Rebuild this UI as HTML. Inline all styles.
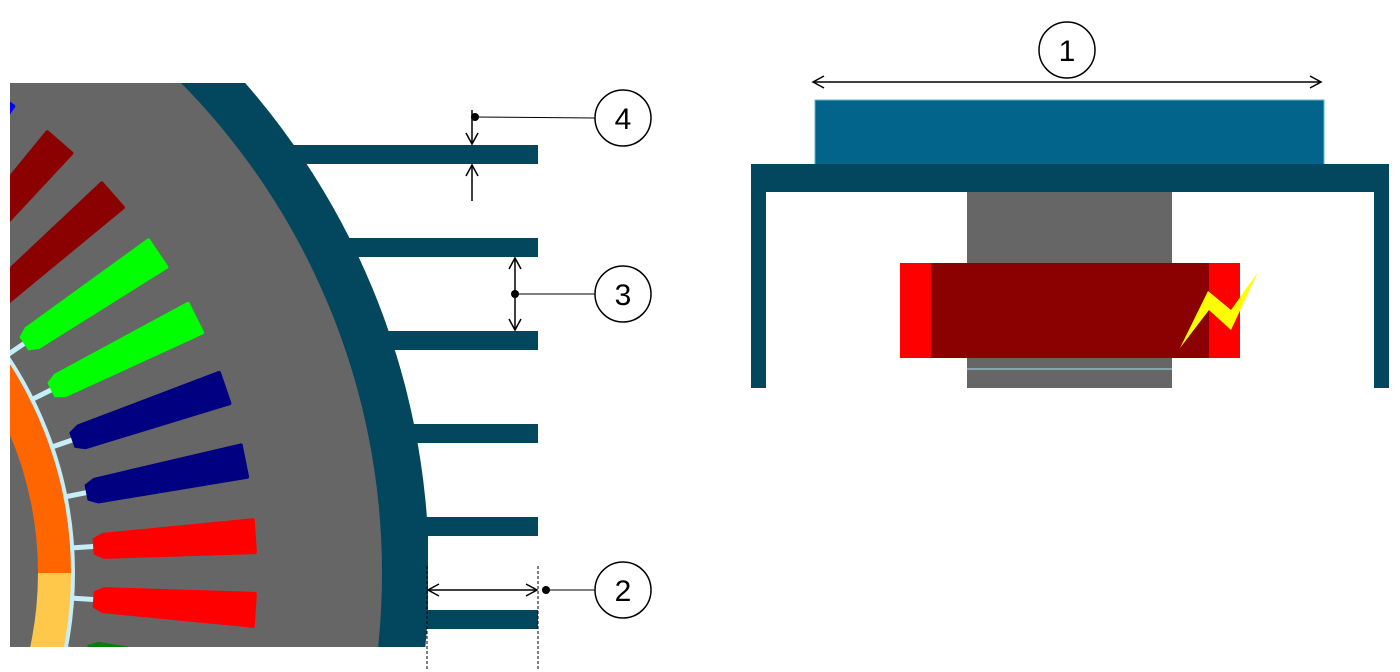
<!DOCTYPE html>
<html><head><meta charset="utf-8"><style>html,body{margin:0;padding:0;background:#fff;overflow:hidden;width:1400px;height:672px}svg{display:block;overflow:hidden}</style></head>
<body>
<svg width="1400" height="672" viewBox="0 0 1400 672" xmlns="http://www.w3.org/2000/svg">
<defs>
<clipPath id="c"><rect x="10" y="83" width="418" height="564"/></clipPath>
<marker id="ah" markerWidth="14" markerHeight="14" refX="12" refY="7" orient="auto-start-reverse" markerUnits="userSpaceOnUse"><path d="M1,1 L12,7 L1,13" fill="none" stroke="#000" stroke-width="1.5"/></marker>
<g id="sl"><line x1="387" y1="0" x2="412" y2="0" stroke="#c6eef8" stroke-width="5"/><path d="M410,-8 L420,-13 L571,-18 Q573,-18 573,-16 L573,16 Q573,18 571,18 L420,13 L410,8Z"/></g>
</defs>
<g fill="#02475e">
<rect x="250" y="145" width="288" height="19"/>
<rect x="250" y="238" width="288" height="19"/>
<rect x="250" y="331" width="288" height="19"/>
<rect x="250" y="424" width="288" height="19"/>
<rect x="250" y="517" width="288" height="19"/>
<rect x="250" y="610" width="288" height="19"/>
</g>
<g clip-path="url(#c)">
<circle cx="-316" cy="573" r="745" fill="#02475e"/>
<circle cx="-316" cy="573" r="698" fill="#666666"/>
<path d="M -316 573 L 73 573 A 389 389 0 0 1 -316 962 Z" fill="#ffc84a"/>
<path d="M -316 573 L 73 573 A 389 389 0 0 0 -316 184 Z" fill="#ff6600"/>
<circle cx="-316" cy="573" r="354" fill="#666666"/>
<circle cx="-316" cy="573" r="389" fill="none" stroke="#c6eef8" stroke-width="4"/>
<g transform="translate(-316,573)">
<use href="#sl" transform="rotate(-56.4)" fill="#0000ff"/>
<use href="#sl" transform="rotate(-48.9)" fill="#8b0000"/>
<use href="#sl" transform="rotate(-41.4)" fill="#8b0000"/>
<use href="#sl" transform="rotate(-34.0)" fill="#00ff00"/>
<use href="#sl" transform="rotate(-26.5)" fill="#00ff00"/>
<use href="#sl" transform="rotate(-18.9)" fill="#000080"/>
<use href="#sl" transform="rotate(-11.3)" fill="#000080"/>
<use href="#sl" transform="rotate(-3.7)" fill="#ff0000"/>
<use href="#sl" transform="rotate(3.7)" fill="#ff0000"/>
<use href="#sl" transform="rotate(11.2)" fill="#008000"/>
</g>
</g>
<g stroke="#000" stroke-width="1.5" fill="none">
<line x1="472" y1="110" x2="472" y2="144" marker-end="url(#ah)"/>
<line x1="472" y1="201" x2="472" y2="165" marker-end="url(#ah)"/>
<line x1="475" y1="117" x2="595" y2="118" stroke-width="1"/>
<line x1="515" y1="258" x2="515" y2="330" marker-start="url(#ah)" marker-end="url(#ah)"/>
<line x1="515" y1="294" x2="595" y2="294" stroke-width="1"/>
<line x1="428" y1="590" x2="537" y2="590" marker-start="url(#ah)" marker-end="url(#ah)"/>
<line x1="546" y1="590" x2="595" y2="590" stroke-width="1"/>
<line x1="427" y1="566" x2="427" y2="671" stroke-width="1" stroke-dasharray="3,2"/>
<line x1="538" y1="566" x2="538" y2="671" stroke-width="1" stroke-dasharray="3,2"/>
<circle cx="623" cy="118" r="28"/>
<circle cx="623" cy="294" r="28"/>
<circle cx="623" cy="590" r="28"/>
<circle cx="1067" cy="50" r="28"/>
<line x1="813" y1="82" x2="1321" y2="82" marker-start="url(#ah)" marker-end="url(#ah)"/>
</g>
<g fill="#000">
<circle cx="475" cy="117" r="4"/>
<circle cx="515" cy="294" r="4"/>
<circle cx="546" cy="590" r="4"/>
</g>
<g font-family="Liberation Sans, sans-serif" font-size="30" text-anchor="middle" fill="#000">
<text x="623" y="129">4</text>
<text x="623" y="305">3</text>
<text x="623" y="601">2</text>
<text x="1067" y="61">1</text>
</g>
<rect x="815" y="100" width="509" height="66" fill="#02648a" stroke="#5fb3c9" stroke-width="1"/>
<rect x="751" y="164" width="638" height="28" fill="#02475e"/>
<rect x="751" y="164" width="15" height="224" fill="#02475e"/>
<rect x="1374" y="164" width="15" height="224" fill="#02475e"/>
<rect x="967" y="192" width="205" height="196" fill="#666666"/>
<line x1="967" y1="369" x2="1172" y2="369" stroke="#8fb8c4" stroke-width="1.5"/>
<rect x="900" y="263" width="340" height="95" fill="#8b0000"/>
<rect x="900" y="263" width="31" height="95" fill="#ff0000"/>
<rect x="1209" y="263" width="31" height="95" fill="#ff0000"/>
<polygon points="1180,348 1208,291 1231,310 1258,272 1231,330 1209,310" fill="#ffff00"/>
</svg>
</body></html>
